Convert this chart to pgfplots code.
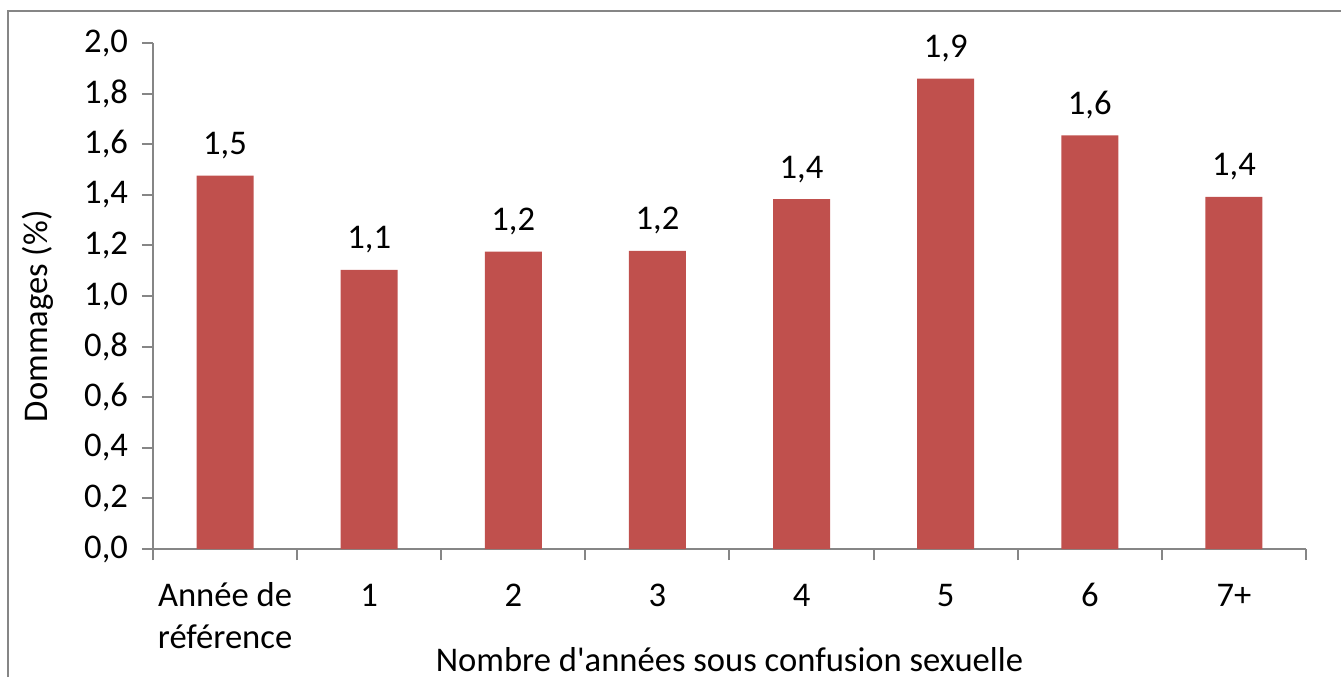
\documentclass[border=0pt]{standalone}
\usepackage{fontspec}
\setmainfont{Carlito}
\usepackage{pgfplots}
\pgfplotsset{compat=1.18}
\definecolor{barred}{HTML}{C0504D}
\definecolor{axgray}{HTML}{868686}
\begin{document}
\begin{tikzpicture}[font=\fontsize{17.3pt}{21pt}\selectfont]
\path[use as bounding box] (-76.5pt,-64pt) rectangle (594pt,274.5pt);
\draw[axgray, line width=1pt] (-72.5pt,-64pt) -- (-72.5pt,269pt) -- (594pt,269pt);
\begin{axis}[
  scale only axis, width=576.5pt, height=253pt,
  xmin=-0.5, xmax=7.5, ymin=0, ymax=2,
  axis x line*=bottom, axis y line*=left,
  axis line style={axgray, line width=1pt},
  every tick/.style={axgray, line width=1pt},
  tick align=outside,
  major tick length=5.5pt, minor tick length=5.5pt,
  ytick={0,0.2,0.4,0.6,0.8,1,1.2,1.4,1.6,1.8,2},
  xtick={0,1,2,3,4,5,6,7},
  xticklabels={{\begin{tabular}[t]{@{}c@{}}Année de\\référence\end{tabular}},1,2,3,4,5,6,7+},
  minor xtick={-0.5,0.5,1.5,2.5,3.5,4.5,5.5,6.5,7.5},
  major x tick style={draw=none},
  xticklabel style={anchor=base, yshift=-23pt},
  yticklabel style={anchor=east, xshift=-3.5pt},
  /pgf/number format/.cd, fixed, fixed zerofill, precision=1, use comma, assume math mode=true,
  /pgfplots/.cd,
  xlabel={Nombre d\textquotesingle années sous confusion sexuelle},
  xlabel style={at={(axis description cs:0.5,0)}, anchor=base, yshift=-61pt},
  ylabel={Dommages (\%)},
  ylabel style={at={(axis description cs:-0.0997,0.46)}, anchor=center},
  ybar, bar width=28.5pt,
  nodes near coords,
  nodes near coords style={anchor=base, yshift=10.5pt, text=black},
]
\addplot[fill=barred, draw=none] coordinates {
(0,1.476) (1,1.103) (2,1.175) (3,1.178) (4,1.383) (5,1.859) (6,1.635) (7,1.392)
};
\end{axis}
\end{tikzpicture}
\end{document}
